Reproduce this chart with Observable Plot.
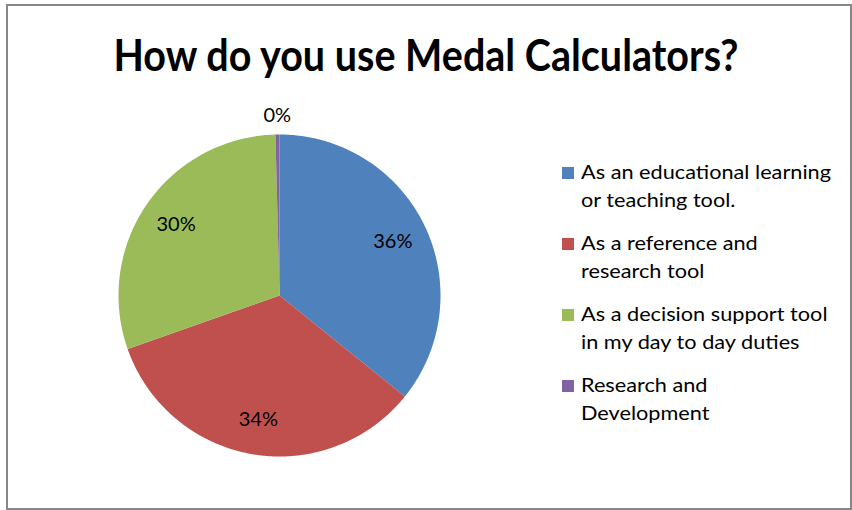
<!DOCTYPE html>
<html>
<head>
<meta charset="utf-8">
<script src="https://cdn.jsdelivr.net/npm/d3@7"></script>
<script src="https://cdn.jsdelivr.net/npm/@observablehq/plot@0.6"></script>
<style>
  html, body { margin: 0; padding: 0; background: #fff; }
  #page { position: relative; width: 852px; height: 510px; overflow: hidden; font-family: Lato, "Open Sans", sans-serif; }
  #frame { position: absolute; left: 6px; top: 4px; width: 846px; height: 506px; box-sizing: border-box; border: 2px solid #868686; }
  #title { position: absolute; left: 0; top: 28px; width: 852px; text-align: center; font-weight: bold; font-size: 44px; color: #000; white-space: nowrap; }
  #title span { display: inline-block; transform-origin: center; }
  #chart { position: absolute; left: 0; top: 0; }
  #legend { position: absolute; left: 562px; top: 157px; font-size: 20px; color: #000; }
  .item { position: relative; padding-left: 19px; line-height: 28px; margin-bottom: 15px; white-space: nowrap; }
  .item span { display: inline-block; transform-origin: left center; }
  .sw { position: absolute; left: 0; top: 10px; width: 12px; height: 12px; }
</style>
</head>
<body>
<div id="page">
  <div id="frame"></div>
  <div id="chart"></div>
  <div id="title"><span>How do you use Medal Calculators?</span></div>
  <div id="legend"></div>
</div>
<script>
const categories = [
  "As an educational learning or teaching tool.",
  "As a reference and research tool",
  "As a decision support tool in my day to day duties",
  "Research and Development"
];
const legendLines = [
  ["As an educational learning", "or teaching tool."],
  ["As a reference and", "research tool"],
  ["As a decision support tool", "in my day to day duties"],
  ["Research and", "Development"]
];
const values = [35.8, 33.8, 30.0, 0.4];
const colors = ["#4F81BD", "#C0504D", "#9BBB59", "#8064A2"];

const data = categories.map((c, i) => ({category: c, value: values[i]}));
const arcs = d3.pie().sort(null).value(d => d.value)(data);

// polygons in unit coordinates (screen orientation: y down)
const pt = (a, r) => [r * Math.sin(a), -r * Math.cos(a)];
const features = arcs.map(a => {
  const n = Math.max(2, Math.ceil((a.endAngle - a.startAngle) / (Math.PI / 360)));
  const ring = [[0, 0]];
  for (let k = 0; k <= n; k++) ring.push(pt(a.startAngle + (a.endAngle - a.startAngle) * k / n, 1));
  ring.push([0, 0]);
  return {type: "Feature", properties: {category: a.data.category}, geometry: {type: "Polygon", coordinates: [ring]}};
});

const labels = arcs.map(a => {
  const mid = (a.startAngle + a.endAngle) / 2;
  const pct = Math.round(a.data.value);
  const r = pct === 0 ? 1.12 : 0.78;
  const [x, y] = pt(mid, r);
  return {x, y, text: pct + "%"};
});

const chart = Plot.plot({
  width: 852,
  height: 510,
  marginLeft: 118,
  marginRight: 852 - 440,
  marginTop: 134,
  marginBottom: 510 - 456,
  projection: {
    type: "identity",
    domain: {type: "MultiPoint", coordinates: [[-1, -1], [1, 1]]},
    inset: 0,
    clip: false
  },
  color: {domain: categories, range: colors},
  style: {background: "transparent", overflow: "visible"},
  marks: [
    Plot.geo(features, {fill: d => d.properties.category, stroke: "none"}),
    Plot.text(labels, {x: "x", y: "y", text: "text", fontSize: 20, fill: "#000", fontFamily: "Lato, sans-serif", clip: false})
  ]
});
document.getElementById("chart").appendChild(chart);

// legend
const leg = document.getElementById("legend");
legendLines.forEach((lines, i) => {
  const item = document.createElement("div");
  item.className = "item";
  const sw = document.createElement("div");
  sw.className = "sw";
  sw.style.background = colors[i];
  item.appendChild(sw);
  lines.forEach((l, j) => {
    if (j) item.appendChild(document.createElement("br"));
    const s = document.createElement("span");
    s.textContent = l;
    s.style.transform = "scaleX(1.085)";
    item.appendChild(s);
  });
  leg.appendChild(item);
});

// fit title width to reference (~625px)
const ts = document.querySelector("#title span");
const w = ts.getBoundingClientRect().width;
ts.style.transform = `scaleX(${625 / w})`;
</script>
</body>
</html>
